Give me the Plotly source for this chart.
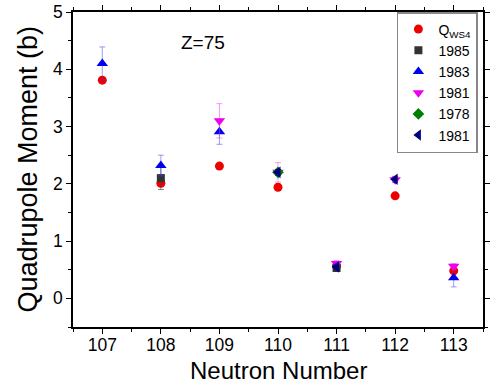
import plotly.graph_objects as go

neutrons = [107, 108, 109, 110, 111, 112, 113]
q_ws4 = [3.81, 2.01, 2.31, 1.94, 0.56, 1.79, 0.48]

y1985 = [None, 2.10, None, None, 0.53, None, None]
e1985 = [0, 0.2, 0, 0, 0.05, 0, 0]

y1983 = [4.10, 2.32, 2.91, None, None, None, 0.36]
e1983 = [0.29, 0.18, 0.22, 0, 0, 0, 0.16]

y1981 = [None, None, 3.10, 2.20, 0.61, 2.07, 0.56]
e1981 = [0, 0, 0.3, 0.17, 0.05, 0.05, 0.05]

y1978 = [None, None, None, 2.20, None, None, None]
e1978 = [0, 0, 0, 0.05, 0, 0, 0]

y1981b = [None, None, None, 2.20, 0.55, 2.08, None]
e1981b = [0, 0, 0, 0.05, 0.05, 0.05, 0]

xticks = [107, 108, 109, 110, 111, 112, 113]
yticks = [0, 1, 2, 3, 4, 5]

FONT = "Arial, Liberation Sans, sans-serif"

fig = go.Figure()

def add(name, y, err, color, errcolor, symbol, size):
    kw = {}
    if err is not None:
        kw["error_y"] = dict(type="data", array=err, visible=True, color=errcolor,
                             thickness=1, width=3)
    fig.add_trace(go.Scatter(x=neutrons, y=y, mode="markers", name=name,
                             marker=dict(color=color, symbol=symbol, size=size,
                                         line=dict(width=0)),
                             **kw))

add("Q<sub>WS4</sub>", q_ws4, None, "#ee0000", None, "circle", 9)
add("1985", y1985, e1985, "#333333", "rgba(60,60,60,0.6)", "square", 8)
add("1983", y1983, e1983, "#0000ee", "rgba(60,60,230,0.5)", "triangle-up", 10)
add("1981", y1981, e1981, "#ee00ee", "rgba(230,60,230,0.5)", "triangle-down", 10)
add("1978", y1978, e1978, "#008000", "rgba(0,128,0,0.5)", "diamond", 9)
add("1981", y1981b, e1981b, "#000080", "rgba(0,0,128,0.5)", "triangle-left", 10)

fig.add_annotation(text="Z=75", x=108.72, y=4.46, xref="x", yref="y",
                   showarrow=False, font=dict(family=FONT, size=19, color="black"),
                   xanchor="center", yanchor="middle")
fig.add_annotation(text="Neutron Number", x=0.5, y=-0.186, xref="paper", yref="paper",
                   showarrow=False, font=dict(family=FONT, size=24, color="black"),
                   xanchor="center", yanchor="bottom")
fig.add_annotation(text="Quadrupole Moment (b)", x=-0.112, y=0.5, xref="paper", yref="paper",
                   showarrow=False, textangle=-90,
                   font=dict(family=FONT, size=27, color="black"),
                   xanchor="center", yanchor="middle")

axis_common = dict(showline=True, linecolor="black", linewidth=1.5, mirror="ticks",
                   ticks="outside", ticklen=5, tickcolor="black", tickwidth=1,
                   showgrid=False, zeroline=False, automargin=False,
                   tickfont=dict(family=FONT, size=17.5, color="black"))

fig.update_layout(
    width=502, height=385,
    margin=dict(l=73, r=19, t=12, b=58),
    paper_bgcolor="white", plot_bgcolor="white",
    font=dict(family=FONT, color="black"),
    xaxis=dict(range=[106.5, 113.5], tickvals=xticks, ticklabelstandoff=-4,
               minor=dict(dtick=0.5, tick0=106.5, ticks="outside", ticklen=3,
                          tickcolor="black"),
               **axis_common),
    yaxis=dict(range=[-0.5, 5], tickvals=yticks,
               minor=dict(dtick=0.5, tick0=0.5, ticks="outside", ticklen=3,
                          tickcolor="black"),
               **axis_common),
    legend=dict(x=0.79, y=1.0, xanchor="left", yanchor="top",
                bordercolor="#888888", borderwidth=1.5, bgcolor="white",
                font=dict(family=FONT, size=14, color="black"),
                tracegroupgap=0, itemwidth=30),
    showlegend=True,
)

fig.write_html("out.html")
